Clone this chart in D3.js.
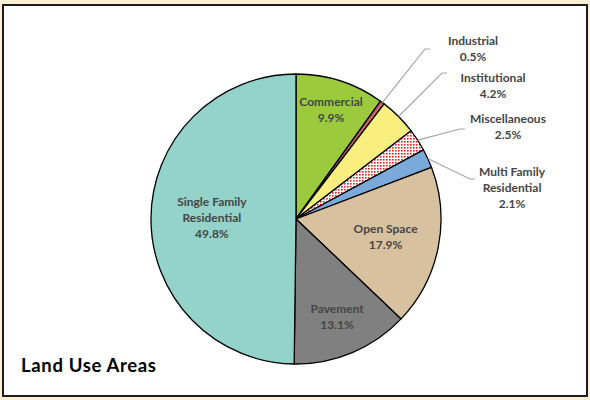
<!DOCTYPE html>
<html>
<head>
<meta charset="utf-8">
<script src="https://cdn.jsdelivr.net/npm/d3@7"></script>
<style>
    html, body { margin: 0; padding: 0; background: #fdefd6; }
    svg { display: block; }
    text { font-family: Lato, "Open Sans", sans-serif; }
</style>
</head>
<body>
<div id="chart"></div>
<script>

// Data ///////////////////////////////////////////////////////////////////////

const categories = [
    "Commercial",
    "Industrial",
    "Institutional",
    "Miscellaneous",
    "Multi Family\nResidential",
    "Open Space",
    "Pavement",
    "Single Family\nResidential"
];
const shares = [9.9, 0.5, 4.2, 2.5, 2.1, 17.9, 13.1, 49.8];
const sliceColors = [
    "#9bcb3c", "#cd6160", "#f8ef7e", "url(#dots)",
    "#7ba9d9", "#d8c19e", "#808080", "#93d3ca"
];
const title = "Land Use Areas";

// Layout /////////////////////////////////////////////////////////////////////

const params = { width: 590, height: 400, cx: 296, cy: 219, r: 145, lineH: 16, fontSize: 12 };

// inside labels: fraction of radius along the mid angle
const insideLabels = { 0: .79, 5: .63, 6: .73, 7: .58 };
// outside labels: label centre x, first line y, leader elbow
const outsideLabels = {
    1: { x: 473, y: 41, ex: 425, ey: 49 },
    2: { x: 493, y: 78, ex: 442, ey: 73 },
    3: { x: 508, y: 119, ex: 460, ey: 129 },
    4: { x: 512, y: 172, ex: 470, ey: 179 }
};

const data = categories.map((c, i) => ({ name: c, value: shares[i], color: sliceColors[i], i }));

// Render /////////////////////////////////////////////////////////////////////

const svg = d3.select("#chart")
    .append("svg")
        .attr("width", params.width)
        .attr("height", params.height)
        .attr("viewBox", [0, 0, params.width, params.height]);

const defs = svg.append("defs");
const pat = defs.append("pattern")
    .attr("id", "dots")
    .attr("width", 3)
    .attr("height", 3)
    .attr("patternUnits", "userSpaceOnUse");
pat.append("rect").attr("width", 3).attr("height", 3).attr("fill", "#fff");
pat.append("rect").attr("width", 1.6).attr("height", 1.6).attr("fill", "#e8201c");

// frame
svg.append("rect")
    .attr("x", 3)
    .attr("y", 5)
    .attr("width", 584)
    .attr("height", 391)
    .attr("fill", "#fff")
    .attr("stroke", "#1c1c1c")
    .attr("stroke-width", 2);

const pie = d3.pie()
    .value(d => d.value)
    .sort(null);

const arc = d3.arc()
    .innerRadius(0)
    .outerRadius(params.r);

const arcs = pie(data);

const g = svg.append("g")
    .attr("transform", `translate(${params.cx},${params.cy})`);

g.selectAll("path")
    .data(arcs)
    .join("path")
    .attr("d", arc)
    .attr("fill", d => d.data.color)
    .attr("stroke", "#000")
    .attr("stroke-width", 1.3)
    .attr("stroke-linejoin", "round");

const mid = d => (d.startAngle + d.endAngle) / 2;

function addLabel(lines, x, yFirst) {
    svg.append("text")
        .attr("text-anchor", "middle")
        .attr("font-size", params.fontSize)
        .attr("font-weight", "bold")
        .attr("fill", "#454545")
        .selectAll("tspan")
        .data(lines)
        .join("tspan")
        .attr("x", x)
        .attr("y", (_, k) => yFirst + k * params.lineH + 4)
        .text(t => t);
}

// inside labels
arcs.filter(d => insideLabels[d.data.i] !== undefined).forEach(d => {
    const rr = params.r * insideLabels[d.data.i];
    const a = mid(d);
    const x = params.cx + rr * Math.sin(a);
    const y = params.cy - rr * Math.cos(a);
    const lines = [...d.data.name.split("\n"), d.data.value.toFixed(1) + "%"];
    addLabel(lines, x, y - (lines.length - 1) * params.lineH / 2);
});

// outside labels with leaders
arcs.filter(d => outsideLabels[d.data.i] !== undefined).forEach(d => {
    const p = outsideLabels[d.data.i];
    const a = mid(d);
    const sx = params.cx + params.r * Math.sin(a);
    const sy = params.cy - params.r * Math.cos(a);
    svg.append("polyline")
        .attr("points", [[sx, sy], [p.ex, p.ey], [p.ex + 5, p.ey]].join(" "))
        .attr("fill", "none")
        .attr("stroke", "#a6a6a6")
        .attr("stroke-width", 1.2);
    const lines = [...d.data.name.split("\n"), d.data.value.toFixed(1) + "%"];
    addLabel(lines, p.x, p.y);
});

// title
svg.append("text")
    .attr("x", 21)
    .attr("y", 372)
    .attr("font-size", 18.5)
    .attr("font-weight", "bold")
    .attr("fill", "#000")
    .attr("textLength", 135)
    .attr("lengthAdjust", "spacing")
    .text(title);

</script>
</body>
</html>
